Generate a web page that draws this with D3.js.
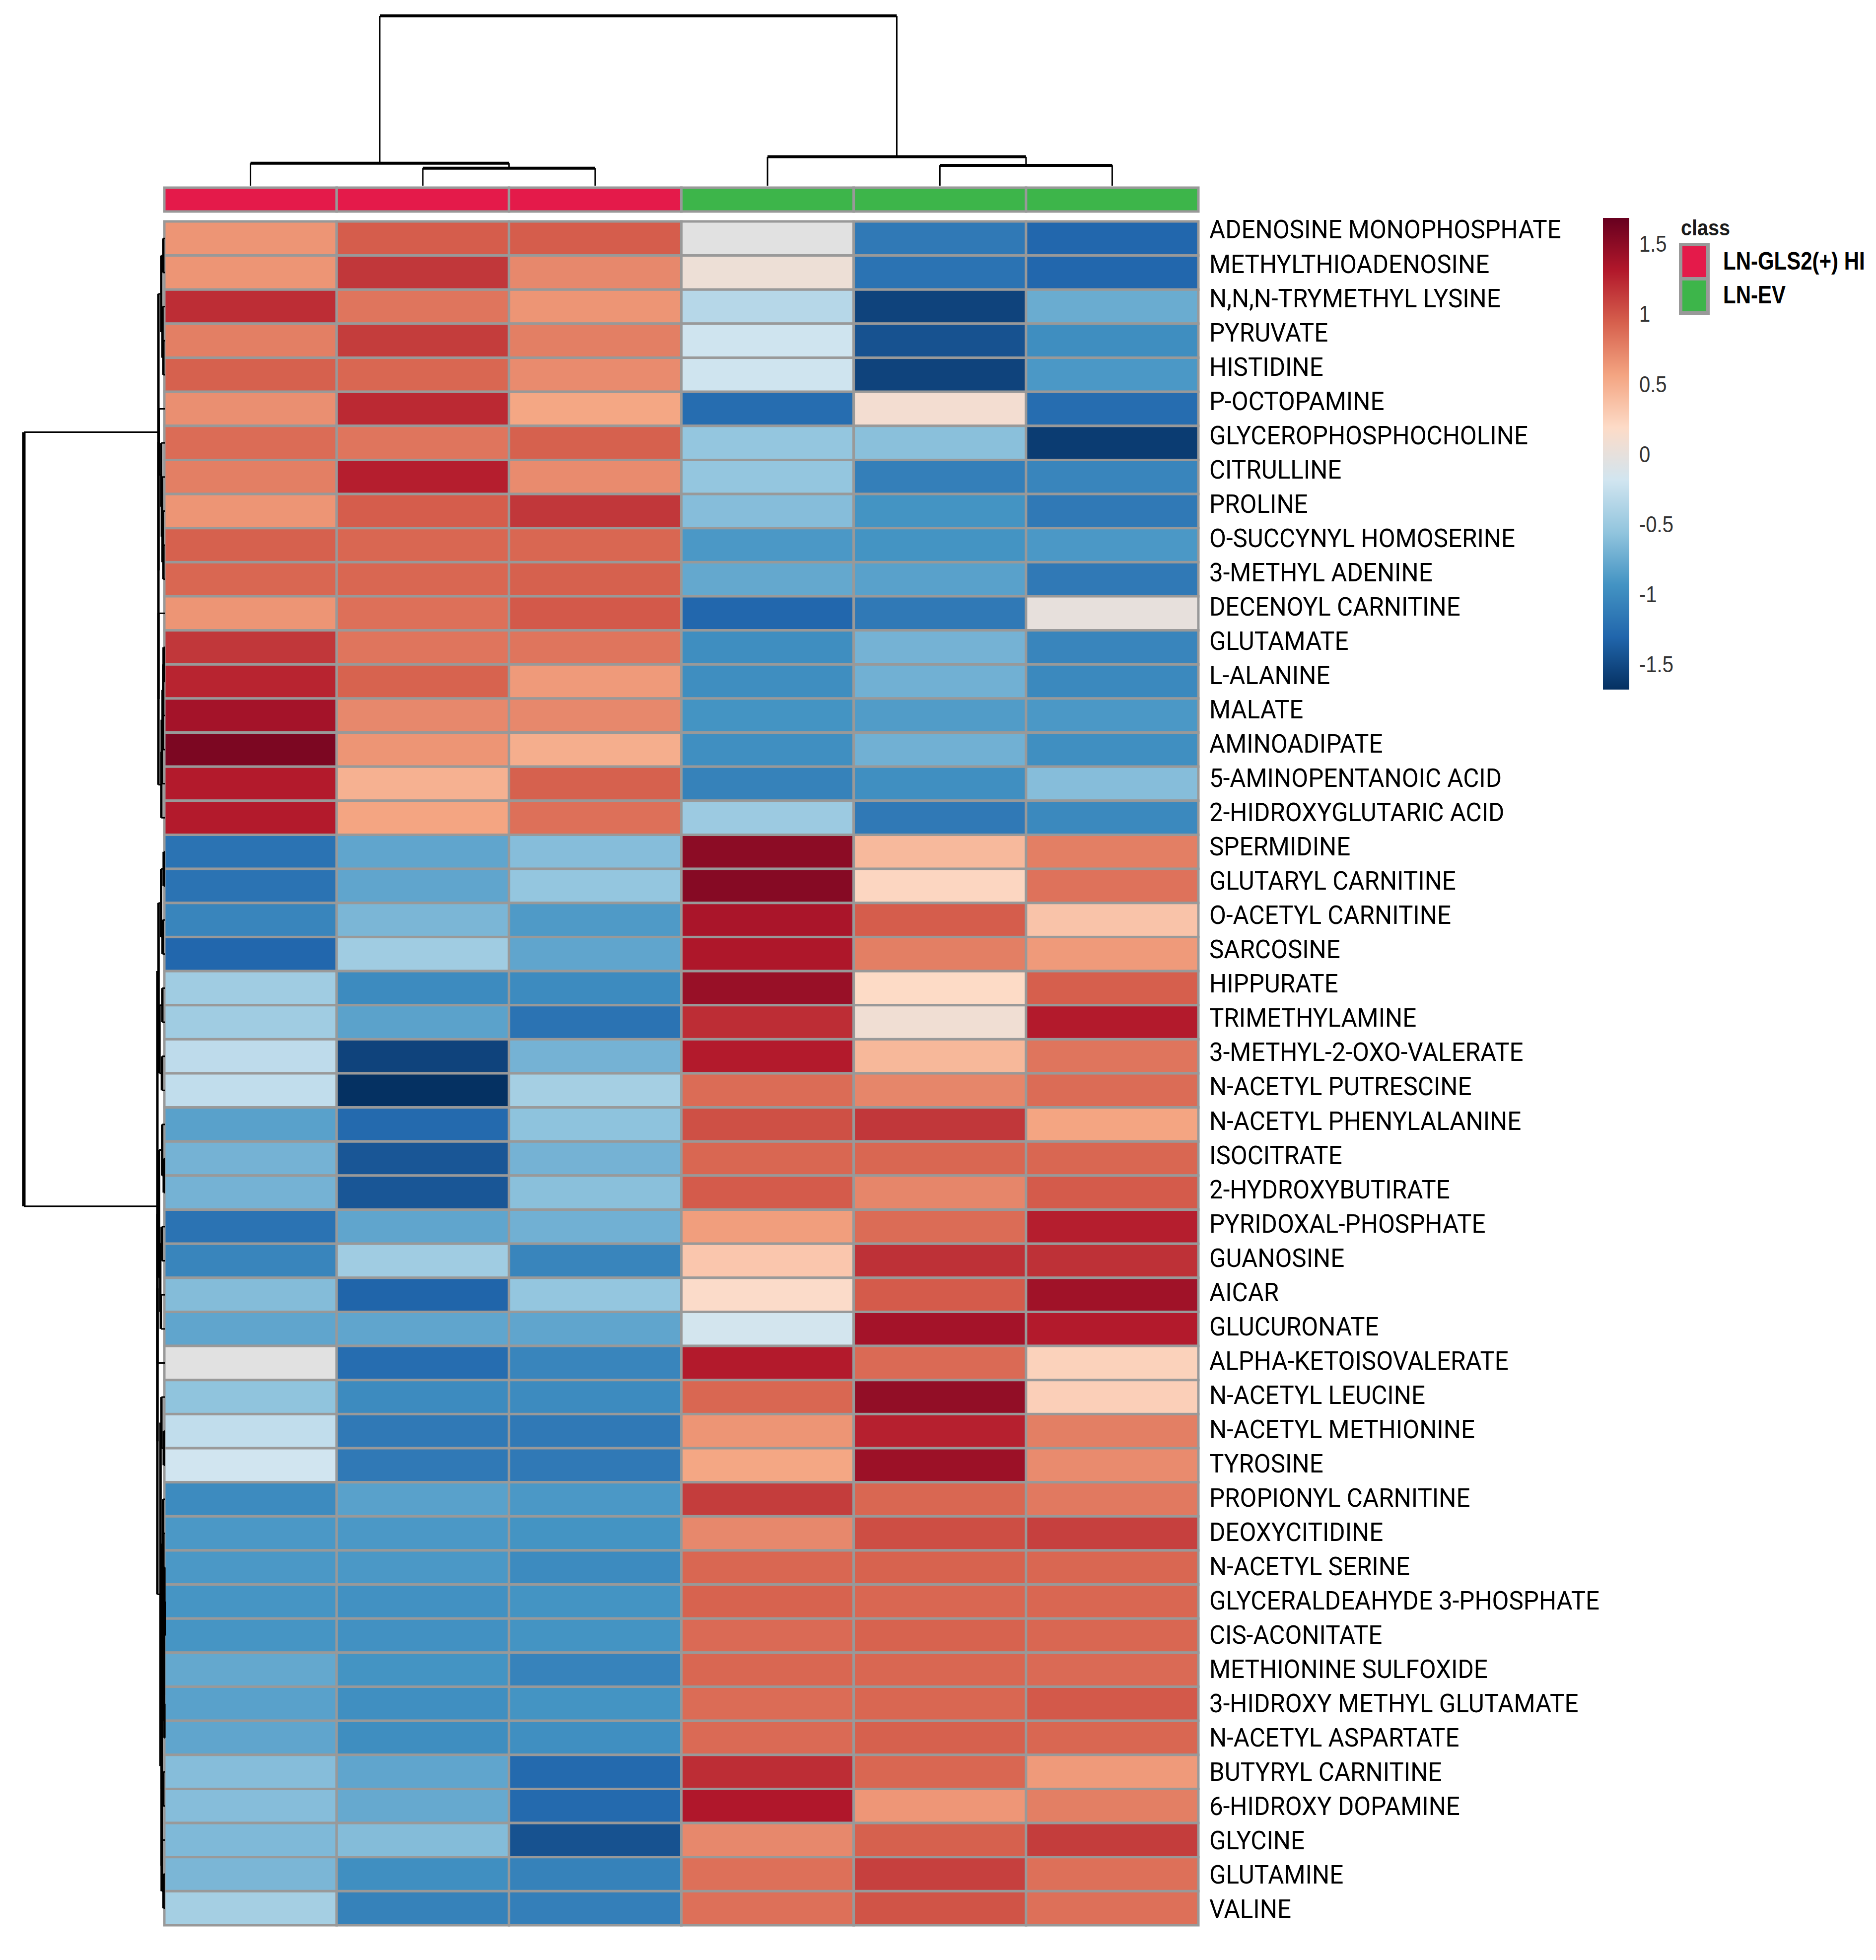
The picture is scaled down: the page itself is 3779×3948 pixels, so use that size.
<!DOCTYPE html>
<html><head><meta charset="utf-8">
<script src="https://cdn.jsdelivr.net/npm/d3@7"></script>
<style>html,body{margin:0;padding:0;background:#fff;} svg{display:block;}</style>
</head><body><svg id="chart" width="3779" height="3948"></svg>
<script>
// ---------------- DATA ----------------
const metabolites = [
  "ADENOSINE MONOPHOSPHATE","METHYLTHIOADENOSINE","N,N,N-TRYMETHYL LYSINE","PYRUVATE","HISTIDINE",
  "P-OCTOPAMINE","GLYCEROPHOSPHOCHOLINE","CITRULLINE","PROLINE","O-SUCCYNYL HOMOSERINE",
  "3-METHYL ADENINE","DECENOYL CARNITINE","GLUTAMATE","L-ALANINE","MALATE",
  "AMINOADIPATE","5-AMINOPENTANOIC ACID","2-HIDROXYGLUTARIC ACID","SPERMIDINE","GLUTARYL CARNITINE",
  "O-ACETYL CARNITINE","SARCOSINE","HIPPURATE","TRIMETHYLAMINE","3-METHYL-2-OXO-VALERATE",
  "N-ACETYL PUTRESCINE","N-ACETYL PHENYLALANINE","ISOCITRATE","2-HYDROXYBUTIRATE","PYRIDOXAL-PHOSPHATE",
  "GUANOSINE","AICAR","GLUCURONATE","ALPHA-KETOISOVALERATE","N-ACETYL LEUCINE",
  "N-ACETYL METHIONINE","TYROSINE","PROPIONYL CARNITINE","DEOXYCITIDINE","N-ACETYL SERINE",
  "GLYCERALDEAHYDE 3-PHOSPHATE","CIS-ACONITATE","METHIONINE SULFOXIDE","3-HIDROXY METHYL GLUTAMATE","N-ACETYL ASPARTATE",
  "BUTYRYL CARNITINE","6-HIDROXY DOPAMINE","GLYCINE","GLUTAMINE","VALINE"
];
const sampleClasses = ["LN-GLS2(+) HI","LN-GLS2(+) HI","LN-GLS2(+) HI","LN-EV","LN-EV","LN-EV"];
const classNames = ["LN-GLS2(+) HI","LN-EV"];
// z-scores per metabolite, columns in displayed sample order
const zScores = [
  [0.65,0.95,0.95,-0.05,-1.15,-1.30],
  [0.65,1.15,0.72,0.05,-1.20,-1.30],
  [1.20,0.82,0.65,-0.35,-1.55,-0.75],
  [0.77,1.12,0.77,-0.20,-1.45,-0.98],
  [0.93,0.90,0.70,-0.20,-1.55,-0.90],
  [0.68,1.22,0.55,-1.25,0.10,-1.25],
  [0.87,0.82,0.93,-0.55,-0.60,-1.60],
  [0.77,1.28,0.70,-0.55,-1.10,-1.05],
  [0.65,0.95,1.15,-0.62,-0.93,-1.15],
  [0.93,0.90,0.90,-0.90,-0.93,-0.90],
  [0.90,0.90,0.93,-0.78,-0.83,-1.15],
  [0.65,0.85,0.97,-1.30,-1.15,0.00],
  [1.15,0.82,0.82,-0.98,-0.70,-1.05],
  [1.25,0.92,0.62,-0.98,-0.72,-1.02],
  [1.38,0.72,0.72,-0.93,-0.87,-0.90],
  [1.58,0.65,0.50,-0.97,-0.72,-0.97],
  [1.30,0.48,0.93,-1.08,-0.97,-0.62],
  [1.30,0.56,0.85,-0.50,-1.15,-1.02],
  [-1.20,-0.80,-0.62,1.50,0.42,0.77],
  [-1.20,-0.80,-0.55,1.53,0.22,0.84],
  [-1.05,-0.67,-0.88,1.35,0.95,0.35],
  [-1.30,-0.48,-0.80,1.33,0.77,0.62],
  [-0.48,-1.00,-1.00,1.44,0.19,0.94],
  [-0.48,-0.82,-1.20,1.20,0.08,1.30],
  [-0.30,-1.55,-0.70,1.30,0.43,0.82],
  [-0.28,-1.68,-0.45,0.87,0.73,0.87],
  [-0.83,-1.28,-0.58,1.02,1.15,0.56],
  [-0.70,-1.42,-0.70,0.90,0.90,0.90],
  [-0.70,-1.42,-0.60,0.96,0.73,0.96],
  [-1.20,-0.80,-0.72,0.60,0.87,1.28],
  [-1.05,-0.48,-1.05,0.33,1.18,1.18],
  [-0.63,-1.32,-0.55,0.17,0.96,1.40],
  [-0.80,-0.80,-0.80,-0.17,1.38,1.30],
  [-0.05,-1.25,-1.05,1.30,0.88,0.25],
  [-0.57,-1.00,-1.00,0.90,1.47,0.27],
  [-0.28,-1.15,-1.15,0.65,1.27,0.77],
  [-0.19,-1.15,-1.15,0.55,1.42,0.70],
  [-1.00,-0.83,-0.90,1.12,0.90,0.80],
  [-0.90,-0.90,-0.93,0.72,1.03,1.10],
  [-0.90,-0.90,-1.00,0.90,0.92,0.90],
  [-0.92,-0.95,-0.93,0.92,0.90,0.90],
  [-0.92,-0.95,-0.93,0.88,0.92,0.90],
  [-0.78,-0.93,-1.07,0.90,0.90,0.88],
  [-0.83,-0.97,-0.93,0.87,0.90,0.97],
  [-0.80,-0.98,-0.97,0.88,0.93,0.90],
  [-0.62,-0.80,-1.28,1.20,0.90,0.62],
  [-0.62,-0.77,-1.28,1.32,0.64,0.77],
  [-0.65,-0.63,-1.45,0.72,0.93,1.12],
  [-0.67,-0.97,-1.08,0.85,1.10,0.85],
  [-0.45,-1.08,-1.10,0.85,1.00,0.85]
];
const legendTicks = [1.5, 1, 0.5, 0, -0.5, -1, -1.5];
// column dendrogram (relative merge heights)
const colTree = {h:1.0, children:[
  {h:0.132, children:[{leaf:0},{h:0.103, children:[{leaf:1},{leaf:2}]}]},
  {h:0.170, children:[{leaf:3},{h:0.120, children:[{leaf:4},{leaf:5}]}]}
]};
// row dendrogram: upper branches as row index ranges;
// the branches inside each [lo, hi] range are clustered from the data
const rowBranches = [[[0, 4], [5, 17]], [[18, 25], [[26, 33], [34, 49]]]];

// ---------------- LAYOUT / SCALES ----------------
const W = 3779, H = 3948;
const svg = d3.select("#chart");
svg.append("rect").attr("width", W).attr("height", H).attr("fill", "#fff");

const hm = {x0:331, x1:2414, y0:446, y1:3878};
const x = d3.scaleBand().domain(d3.range(sampleClasses.length)).range([hm.x0, hm.x1]);
const y = d3.scaleBand().domain(d3.range(metabolites.length)).range([hm.y0, hm.y1]);
const lim = 1.684;
const palette = ["#053061","#2166AC","#4393C3","#92C5DE","#D1E5F0","#FDDBC7","#F4A582","#D6604D","#B2182B","#67001F"];
const colorDomain = palette.map((_, i) => -lim + 2 * lim * i / (palette.length - 1));
const color = d3.scaleLinear().domain(colorDomain).range(palette).interpolate(d3.interpolateRgb).clamp(true);
const classColor = d3.scaleOrdinal().domain(classNames).range(["#E41A4A", "#3DB54A"]);
const gridStroke = "#999999";

// ---------------- HEATMAP ----------------
const cells = [];
zScores.forEach((row, i) => row.forEach((v, j) => cells.push({i, j, v})));
svg.append("g").selectAll("rect").data(cells).join("rect")
  .attr("x", d => x(d.j)).attr("y", d => y(d.i))
  .attr("width", x.bandwidth()).attr("height", y.bandwidth())
  .attr("fill", d => color(d.v))
  .attr("stroke", gridStroke).attr("stroke-width", 5);

// annotation bar
const annY0 = 378, annY1 = 426;
svg.append("g").selectAll("rect").data(sampleClasses).join("rect")
  .attr("x", (d, j) => x(j)).attr("y", annY0)
  .attr("width", x.bandwidth()).attr("height", annY1 - annY0)
  .attr("fill", d => classColor(d))
  .attr("stroke", gridStroke).attr("stroke-width", 5);

// ---------------- COLUMN DENDROGRAM ----------------
const colLeafY = 374, colRootY = 32;
const colH = d3.scaleLinear().domain([0, 1]).range([colLeafY, colRootY]);
const cd = svg.append("g").attr("stroke", "#000").attr("fill", "none");
function layoutCol(n) {
  if (n.leaf !== undefined) { n.px = x(n.leaf) + x.bandwidth() / 2; n.py = colLeafY; return; }
  n.children.forEach(layoutCol);
  n.px = (n.children[0].px + n.children[1].px) / 2;
  n.py = colH(n.h);
}
layoutCol(colTree);
function drawCol(n) {
  if (n.leaf !== undefined) return;
  const [a, b] = n.children;
  cd.append("line").attr("x1", a.px).attr("x2", b.px).attr("y1", n.py).attr("y2", n.py).attr("stroke-width", 6);
  [a, b].forEach(c => {
    cd.append("line").attr("x1", c.px).attr("x2", c.px).attr("y1", n.py).attr("y2", c.py).attr("stroke-width", 3);
    drawCol(c);
  });
}
drawCol(colTree);

// ---------------- ROW DENDROGRAM ----------------
function dist(a, b) { let s = 0; for (let k = 0; k < a.length; k++) { const d = a[k] - b[k]; s += d * d; } return Math.sqrt(s); }
function avgLink(a, b) {
  let s = 0; a.members.forEach(p => b.members.forEach(q => s += dist(p, q)));
  return s / (a.members.length * b.members.length);
}
function merge(a, b, h) {
  return {children:[a, b], members:a.members.concat(b.members), py:(a.py + b.py) / 2, h:Math.max(h, a.h, b.h)};
}
function clusterRange(lo, hi) {
  let nodes = d3.range(lo, hi + 1).map(i => ({members:[zScores[i]], py: y(i) + y.bandwidth() / 2, h:0, leaf:true}));
  while (nodes.length > 1) {
    let best = -1, bd = Infinity;
    for (let k = 0; k < nodes.length - 1; k++) {
      const s = avgLink(nodes[k], nodes[k + 1]);
      if (s < bd) { bd = s; best = k; }
    }
    nodes.splice(best, 2, merge(nodes[best], nodes[best + 1], bd));
  }
  return nodes[0];
}
function build(spec) {
  if (typeof spec[0] === "number") return clusterRange(spec[0], spec[1]);
  const a = build(spec[0]), b = build(spec[1]);
  return merge(a, b, avgLink(a, b));
}
const level1 = rowBranches.map(build);
const rowRoot = merge(level1[0], level1[1], avgLink(level1[0], level1[1]));
const subMax = d3.max(level1, c => c.h);
const rowH = d3.scaleLinear().domain([0, subMax]).range([332, 317]);
const rowRootX = 48;
const rd = svg.append("g").attr("stroke", "#000").attr("fill", "none");
function nodeX(n) { return n === rowRoot ? rowRootX : rowH(n.h); }
function drawRow(n) {
  if (n.leaf) return;
  const nx = nodeX(n);
  const [a, b] = n.children;
  rd.append("line").attr("x1", nx).attr("x2", nx).attr("y1", a.py).attr("y2", b.py)
    .attr("stroke-width", n === rowRoot ? 7 : 5);
  [a, b].forEach(c => {
    rd.append("line").attr("x1", nx).attr("x2", nodeX(c)).attr("y1", c.py).attr("y2", c.py).attr("stroke-width", 3);
    drawRow(c);
  });
}
drawRow(rowRoot);

// ---------------- ROW LABELS ----------------
const labelFs = 52, labelX = 2436;
const labelY = d3.scaleLinear().domain([0, metabolites.length - 1]).range([462, 3845]);
const labels = svg.append("g").selectAll("text").data(metabolites).join("text")
  .attr("font-family", "Roboto, 'Liberation Sans', sans-serif")
  .attr("font-size", labelFs).attr("fill", "#000")
  .text(d => d);
const refLen = labels.nodes()[0].getComputedTextLength();
const labelSx = 709 / refLen;
labels.attr("transform", (d, i) => `translate(${labelX},${labelY(i) + 0.355 * labelFs}) scale(${labelSx},1)`);

// ---------------- COLOR LEGEND ----------------
const lgX = 3229, lgW = 53, lgTop = 439, lgBot = 1389;
const yL = d3.scaleLinear().domain([-lim, lim]).range([lgBot, lgTop]);
const defs = svg.append("defs");
const grad = defs.append("linearGradient").attr("id", "lg").attr("x1", 0).attr("x2", 0).attr("y1", 1).attr("y2", 0);
colorDomain.forEach(v => grad.append("stop").attr("offset", (v + lim) / (2 * lim)).attr("stop-color", color(v)));
svg.append("rect").attr("x", lgX).attr("y", lgTop).attr("width", lgW).attr("height", lgBot - lgTop).attr("fill", "url(#lg)");
const tickFs = 46;
svg.append("g").selectAll("text").data(legendTicks).join("text")
  .attr("font-family", "'Liberation Sans', Arial, sans-serif").attr("font-size", tickFs).attr("fill", "#333")
  .attr("transform", d => `translate(3302,${yL(d) + 0.36 * tickFs}) scale(0.87,1)`)
  .text(d => String(d));

// ---------------- CLASS LEGEND ----------------
svg.append("text").attr("font-family", "'Liberation Sans', Arial, sans-serif").attr("font-weight", "bold")
  .attr("font-size", 44).attr("fill", "#1a1a1a")
  .attr("transform", "translate(3386,474) scale(0.9,1)").text("class");
const boxX = 3385.5, boxW = 55, boxH = 69, boxY0 = 492.5;
svg.append("g").selectAll("rect").data(classNames).join("rect")
  .attr("x", boxX).attr("y", (d, i) => boxY0 + i * boxH).attr("width", boxW).attr("height", boxH)
  .attr("fill", d => classColor(d)).attr("stroke", gridStroke).attr("stroke-width", 7);
svg.append("g").selectAll("text").data(classNames).join("text")
  .attr("font-family", "'Liberation Sans', Arial, sans-serif").attr("font-weight", "bold")
  .attr("font-size", 50).attr("fill", "#000")
  .attr("transform", (d, i) => `translate(3471,${543 + i * 68}) scale(0.84,1)`)
  .text(d => d);
</script>
</body></html>
